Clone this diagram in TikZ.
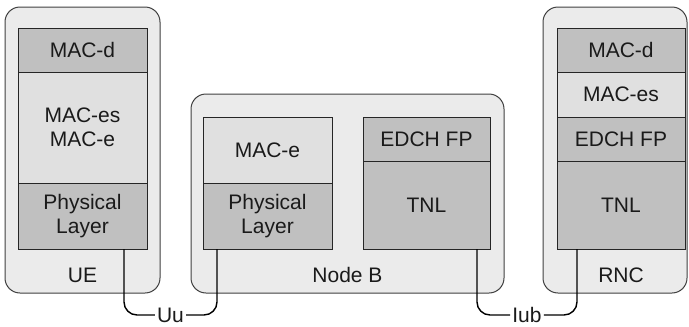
\documentclass[tikz,border=0pt]{standalone}
\usepackage{fontspec}
\setmainfont{Liberation Sans}
\definecolor{outerfill}{HTML}{EBEBEB}
\definecolor{lightlayer}{HTML}{E0E0E0}
\definecolor{darklayer}{HTML}{C0C0C0}
\definecolor{txt}{HTML}{1A1A1A}
\begin{document}
\begin{tikzpicture}[x=1pt,y=-1pt,
  every node/.style={font=\fontsize{21}{23.7}\selectfont, text=txt},
  outerbox/.style={draw=black!75, fill=outerfill, line width=1pt, rounded corners=15pt},
  layer/.style={draw=black!85, line width=1pt, inner sep=0pt, align=center, minimum width=#1},
  dk/.style={layer=#1, fill=darklayer},
  lt/.style={layer=#1, fill=lightlayer},
  conn/.style={draw=black, line width=1.4pt, rounded corners=13pt},
  lbl/.style={inner sep=0pt}
]
\useasboundingbox (0,0) rectangle (689,327);
% outer boxes
\draw[outerbox] (5,7) rectangle (160,293);
\draw[outerbox] (191,94) rectangle (504,293);
\draw[outerbox] (543,7) rectangle (687,293);
% UE
\node[dk=129pt, minimum height=44pt] (uemacd) at (82.5,50) {MAC-d};
\node[lt=129pt, minimum height=111pt] (uemace) at (82.5,127.5) {MAC-es\\MAC-e};
\node[dk=129pt, minimum height=66pt] (uephy) at (82.5,216) {Physical\\Layer};
\node[lbl] (uelbl) at (82.5,275) {UE};
% Node B
\node[lt=129pt, minimum height=66pt] (nbmace) at (267.5,150) {MAC-e};
\node[dk=129pt, minimum height=66pt] (nbphy) at (267.5,216) {Physical\\Layer};
\node[dk=127pt, minimum height=44pt] (nbfp) at (426.5,139) {EDCH FP};
\node[dk=127pt, minimum height=88pt] (nbtnl) at (426.5,205) {TNL};
\node[lbl] (nblbl) at (347.5,275) {Node B};
% RNC
\node[dk=128pt, minimum height=44pt] (rncmacd) at (621,50) {MAC-d};
\node[lt=128pt, minimum height=45pt] (rncmaces) at (621,94.5) {MAC-es};
\node[dk=128pt, minimum height=44pt] (rncfp) at (621,139) {EDCH FP};
\node[dk=128pt, minimum height=88pt] (rnctnl) at (621,205) {TNL};
\node[lbl] (rnclbl) at (621,275) {RNC};
% interface labels
\node[lbl, inner xsep=2pt] (uu) at (170.5,315) {Uu};
\node[lbl, inner xsep=2pt] (iub) at (527,315) {Iub};
% connectors
\coordinate (ueport) at (124,249);
\coordinate (nbport) at (217,249);
\coordinate (nbport2) at (477,249);
\coordinate (rncport) at (577,249);
\draw[conn] (ueport) |- (uu.west);
\draw[conn] (uu.east) -| (nbport);
\draw[conn] (nbport2) |- (iub.west);
\draw[conn] (iub.east) -| (rncport);
\end{tikzpicture}
\end{document}
